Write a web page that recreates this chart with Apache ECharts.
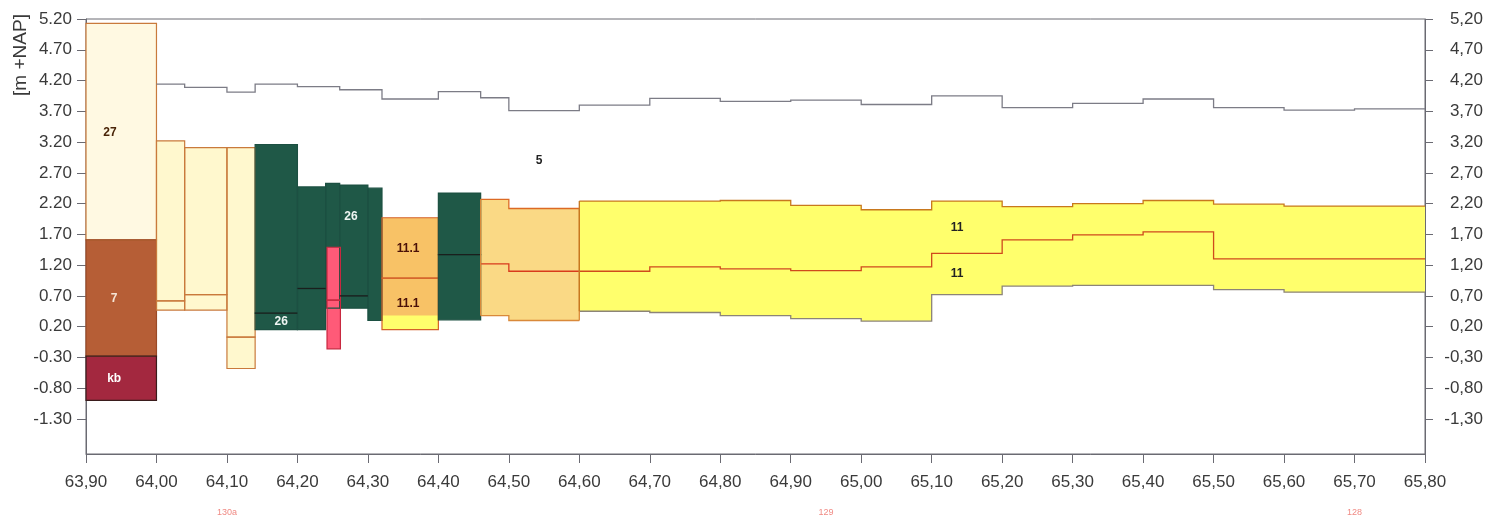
<!DOCTYPE html>
<html><head><meta charset="utf-8">
<script src="https://cdn.jsdelivr.net/npm/echarts@6/dist/echarts.min.js"></script>
<style>html,body{margin:0;padding:0;background:#fff}#c{width:1488px;height:519px}</style>
</head><body><div id="c"></div>
<script>
// ---- axes ----
const X_MIN = 63.90, X_MAX = 65.80;
const Y_MIN = -1.87, Y_MAX = 5.20;
const xTicks = [63.90,64.00,64.10,64.20,64.30,64.40,64.50,64.60,64.70,64.80,64.90,65.00,65.10,65.20,65.30,65.40,65.50,65.60,65.70,65.80];
const yTicks = [5.20,4.70,4.20,3.70,3.20,2.70,2.20,1.70,1.20,0.70,0.20,-0.30,-0.80,-1.30];
const yAxisName = '[m +NAP]';

// ---- individual layer blocks: [kmFrom, kmTo, bottom, top, layer code] ----
const blocks = [
  [63.90, 64.00,  1.61, 5.13, '27'],
  [63.90, 64.00, -0.28, 1.61, '7'],
  [63.90, 64.00, -1.00, -0.28, 'kb'],
  [64.00, 64.04,  0.62, 3.22, 'z'],
  [64.00, 64.04,  0.47, 0.62, 'z'],
  [64.04, 64.10,  0.72, 3.11, 'z'],
  [64.04, 64.10,  0.47, 0.72, 'z'],
  [64.10, 64.14,  0.03, 3.11, 'z'],
  [64.10, 64.14, -0.48, 0.03, 'z'],
  [64.14, 64.20,  0.42, 3.16, '26'],
  [64.14, 64.20,  0.15, 0.42, '26'],
  [64.20, 64.24,  0.82, 2.47, '26'],
  [64.20, 64.24,  0.15, 0.82, '26'],
  [64.24, 64.26,  0.50, 2.53, '26'],
  [64.26, 64.30,  0.70, 2.50, '26'],
  [64.26, 64.30,  0.50, 0.70, '26'],
  [64.30, 64.32,  0.30, 2.45, '26'],
  [64.32, 64.40,  0.99, 1.97, '11.1'],
  [64.32, 64.40,  0.15, 0.99, '11.1'],
  [64.40, 64.46,  1.37, 2.37, '26'],
  [64.40, 64.46,  0.31, 1.37, '26'],
  [64.242, 64.261, 0.63, 1.49, 'r'],
  [64.242, 64.261, -0.16, 0.63, 'r']
];
// fill-only patch (yellow at the base of the lower 11.1 block)
const patches = [
  [64.32, 64.40, 0.15, 0.38, '11']
];

// ---- stepped layers (km breaks, values per segment) ----
const mixX      = [64.46, 64.50, 64.60];
const mixTop    = [2.27, 2.12];
const mixMid    = [1.22, 1.10];
const mixBottom = [0.38, 0.30];

const yelX      = [64.60, 64.70, 64.80, 64.90, 65.00, 65.10, 65.20, 65.30, 65.40, 65.50, 65.60, 65.80];
const yelTop    = [2.24, 2.24, 2.25, 2.17, 2.10, 2.24, 2.15, 2.20, 2.25, 2.19, 2.16];
const yelMid    = [1.10, 1.17, 1.14, 1.11, 1.17, 1.39, 1.61, 1.69, 1.74, 1.30, 1.30];
const yelBottom = [0.45, 0.43, 0.38, 0.33, 0.29, 0.72, 0.86, 0.87, 0.87, 0.80, 0.76];

// ---- surface (grey line) ----
const surfX = [64.00, 64.04, 64.10, 64.14, 64.20, 64.26, 64.32, 64.40, 64.46, 64.50, 64.60, 64.70, 64.80, 64.90, 65.00, 65.10, 65.20, 65.30, 65.40, 65.50, 65.60, 65.70, 65.80];
const surfV = [4.14, 4.09, 4.01, 4.14, 4.10, 4.05, 3.90, 4.02, 3.92, 3.71, 3.80, 3.91, 3.86, 3.88, 3.81, 3.95, 3.76, 3.83, 3.90, 3.76, 3.72, 3.74];

// ---- layer labels: [km, level, text] ----
const layerLabels = [
  [63.934, 3.36, '27'],
  [63.940, 0.66, '7'],
  [63.940, -0.65, 'kb'],
  [64.276, 1.99, '26'],
  [64.177, 0.28, '26'],
  [64.357, 1.47, '11.1'],
  [64.357, 0.57, '11.1'],
  [64.543, 2.90, '5'],
  [65.136, 1.81, '11'],
  [65.136, 1.06, '11']
];
// ---- hectometre markers below axis ----
const hmMarkers = [[64.10, '130a'], [64.95, '129'], [65.70, '128']];

// ---- styles ----
const fills   = {'27':'#FFF9E2','7':'#B65E36','kb':'#A3283F','z':'#FFF8CE','26':'#1F5847','11.1':'#F8C266','r':'#FF5A78','11':'#FFFF6C','mix':'#FAD985'};
const strokes = {'27':'#C97A3C','7':'#9A4A26','kb':'#3A1C1C','z':'#C97A3C','26':'#1C5042','11.1':'#D4622A','r':'#C82840'};
const contactColors = {'26':'#1A1F1D','7':'#2A1A18'};
const labelColors = {'27':'#4A2508','7':'#F6E6D6','kb':'#FFFFFF','26':'#EEF5F2','11.1':'#4A1008','5':'#222222','11':'#222222'};

function stepPts(xs, vs) {
  const p = [];
  for (let i = 0; i < vs.length; i++) { p.push([xs[i], vs[i]]); p.push([xs[i+1], vs[i]]); }
  return p;
}
function rectShape(api, d) {
  const a = api.coord([d[0], d[3]]), b = api.coord([d[1], d[2]]);
  return {x: a[0], y: a[1], width: b[0]-a[0], height: b[1]-a[1]};
}
// internal contacts: top edge of a block that lies directly under a block of the same code
const contacts = blocks.filter(b => contactColors[b[4]] && blocks.some(o => o !== b && o[4] === b[4] && o[0] === b[0] && o[1] === b[1] && o[2] === b[3]));

const bands = [
  {x: mixX, top: mixTop, bottom: mixMid, fill: fills.mix},
  {x: mixX, top: mixMid, bottom: mixBottom, fill: fills.mix},
  {x: yelX, top: yelTop, bottom: yelMid, fill: fills['11']},
  {x: yelX, top: yelMid, bottom: yelBottom, fill: fills['11']}
];
const outlines = [
  {x: mixX, v: mixTop, color: '#DC6A24'},
  {x: mixX, v: mixMid, color: '#D83A1C'},
  {x: mixX, v: mixBottom, color: '#D9893A'},
  {x: yelX, v: yelTop, color: '#C8781E'},
  {x: yelX, v: yelMid, color: '#CF4A1C'},
  {x: yelX, v: yelBottom, color: '#8C8478'},
  {x: surfX, v: surfV, color: '#7C7C86'}
];
const edges = [
  [mixX[0], mixBottom[0], mixTop[0], '#D9893A'],
  [mixX[2], mixBottom[1], mixTop[1], '#D9893A'],
  [yelX[0], yelBottom[0], yelTop[0], '#C8781E']
];

const chart = echarts.init(document.getElementById('c'), null, {renderer: 'canvas'});
const axisCol = '#6A6A72';
const fmtComma = v => Number(v).toFixed(2).replace('.', ',');
const fmtDot = v => Number(v).toFixed(2);
const FONT = 'Liberation Sans, Arial, sans-serif';

chart.setOption({
  backgroundColor: '#ffffff',
  animation: false,
  grid: {left: 86, right: 63, top: 19, bottom: 65, show: true, borderColor: axisCol, borderWidth: 1},
  xAxis: {
    type: 'value', min: X_MIN, max: X_MAX,
    splitLine: {show: false},
    axisLine: {show: true, onZero: false, lineStyle: {color: axisCol}},
    axisTick: {show: true, length: 9, customValues: xTicks, lineStyle: {color: axisCol}},
    axisLabel: {customValues: xTicks, formatter: fmtComma, margin: 20, fontSize: 17, color: '#3A3A3A', fontFamily: FONT}
  },
  yAxis: [{
    type: 'value', min: Y_MIN, max: Y_MAX, position: 'left',
    splitLine: {show: false},
    axisLine: {show: true, onZero: false, lineStyle: {color: axisCol}},
    axisTick: {show: true, length: 9, customValues: yTicks, lineStyle: {color: axisCol}},
    axisLabel: {customValues: yTicks, formatter: fmtDot, margin: 14, fontSize: 17, color: '#3A3A3A', fontFamily: FONT}
  }, {
    type: 'value', min: Y_MIN, max: Y_MAX, position: 'right',
    splitLine: {show: false},
    axisLine: {show: true, onZero: false, lineStyle: {color: axisCol}},
    axisTick: {show: true, length: 8, customValues: yTicks, lineStyle: {color: axisCol}},
    axisLabel: {customValues: yTicks, formatter: fmtComma, margin: 58, align: 'right', fontSize: 17, color: '#3A3A3A', fontFamily: FONT}
  }],
  graphic: [{
    type: 'text', x: 21, y: 55, rotation: Math.PI / 2,
    style: {text: yAxisName, fill: '#3A3A3A', font: '19px "Liberation Sans", Arial, sans-serif', textAlign: 'center', textVerticalAlign: 'middle'}
  }],
  series: [
    { // stepped band fills
      type: 'custom', silent: true, z: 2,
      data: bands.map((b, i) => i),
      renderItem: (params, api) => {
        const b = bands[params.dataIndex];
        const pts = stepPts(b.x, b.top).concat(stepPts(b.x, b.bottom).reverse()).map(p => api.coord(p));
        return {type: 'polygon', shape: {points: pts}, style: {fill: b.fill, stroke: null}};
      }
    },
    { // block fills
      type: 'custom', silent: true, z: 3,
      data: blocks.concat(patches).map((b, i) => i),
      renderItem: (params, api) => {
        const all = blocks.concat(patches);
        const d = all[params.dataIndex];
        return {type: 'rect', shape: rectShape(api, d), style: {fill: fills[d[4]], stroke: null}};
      }
    },
    { // block outlines
      type: 'custom', silent: true, z: 4,
      data: blocks.map((b, i) => i),
      renderItem: (params, api) => {
        const d = blocks[params.dataIndex];
        return {type: 'rect', shape: rectShape(api, d), style: {fill: null, stroke: strokes[d[4]], lineWidth: 1.2}};
      }
    },
    { // internal contacts (dark lines inside green / brown layers)
      type: 'custom', silent: true, z: 4,
      data: contacts.map((c, i) => i),
      renderItem: (params, api) => {
        const c = contacts[params.dataIndex];
        const a = api.coord([c[0], c[3]]), b = api.coord([c[1], c[3]]);
        return {type: 'line', shape: {x1: a[0], y1: a[1], x2: b[0], y2: b[1]}, style: {stroke: contactColors[c[4]], lineWidth: 1.3}};
      }
    },
    { // step outlines
      type: 'custom', silent: true, z: 5,
      data: outlines.map((o, i) => i),
      renderItem: (params, api) => {
        const o = outlines[params.dataIndex];
        return {type: 'polyline', shape: {points: stepPts(o.x, o.v).map(p => api.coord(p))}, style: {fill: null, stroke: o.color, lineWidth: 1.3}};
      }
    },
    { // vertical edges
      type: 'custom', silent: true, z: 5,
      data: edges.map((e, i) => i),
      renderItem: (params, api) => {
        const e = edges[params.dataIndex];
        const a = api.coord([e[0], e[1]]), b = api.coord([e[0], e[2]]);
        return {type: 'line', shape: {x1: a[0], y1: a[1], x2: b[0], y2: b[1]}, style: {stroke: e[3], lineWidth: 1.3}};
      }
    },
    { // layer labels
      type: 'custom', silent: true, z: 6,
      data: layerLabels.map((l, i) => i),
      renderItem: (params, api) => {
        const l = layerLabels[params.dataIndex];
        const p = api.coord([l[0], l[1]]);
        return {type: 'text', x: p[0], y: p[1], style: {text: l[2], fill: labelColors[l[2]], font: 'bold 12px "Liberation Sans", Arial, sans-serif', textAlign: 'center', textVerticalAlign: 'middle'}};
      }
    },
    { // hectometre markers
      type: 'custom', silent: true, z: 6,
      data: hmMarkers.map((m, i) => i),
      renderItem: (params, api) => {
        const m = hmMarkers[params.dataIndex];
        const p = api.coord([m[0], Y_MIN]);
        return {type: 'text', x: p[0], y: p[1] + 59, style: {text: m[1], fill: '#F08A84', font: '9px "Liberation Sans", Arial, sans-serif', textAlign: 'center', textVerticalAlign: 'middle'}};
      }
    }
  ]
});
</script></body></html>
